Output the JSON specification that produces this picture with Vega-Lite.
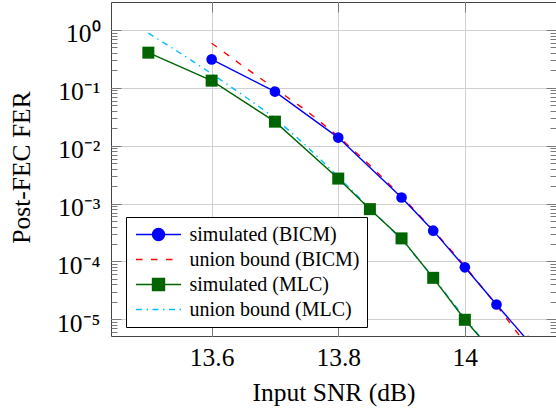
{
  "$schema": "https://vega.github.io/schema/vega-lite/v6.json",
  "width": 445,
  "height": 334,
  "autosize": {"type": "none"},
  "padding": {"left": 111, "top": 2, "right": 0, "bottom": 75},
  "config": {
    "view": {"stroke": "#444444", "strokeWidth": 1},
    "font": "Liberation Serif",
    "axis": {
      "domain": false,
      "labelFont": "Liberation Serif",
      "titleFont": "Liberation Serif",
      "labelFontSize": 25.5,
      "titleFontSize": 25.5,
      "titleFontWeight": "normal",
      "labelColor": "black",
      "titleColor": "black",
      "tickColor": "#7a7a7a",
      "tickWidth": 1,
      "gridColor": "#d0d0d0",
      "gridWidth": 1,
      "offset": 0
    }
  },
  "data": {
    "values": [
      {"series": "simulated (BICM)", "snr": 13.6, "fer": 0.31},
      {"series": "simulated (BICM)", "snr": 13.7, "fer": 0.086},
      {"series": "simulated (BICM)", "snr": 13.8, "fer": 0.0138},
      {"series": "simulated (BICM)", "snr": 13.9, "fer": 0.00127},
      {"series": "simulated (BICM)", "snr": 13.95, "fer": 0.00034},
      {"series": "simulated (BICM)", "snr": 14.0, "fer": 0.000079},
      {"series": "simulated (BICM)", "snr": 14.05, "fer": 0.000018},
      {"series": "simulated (BICM)", "snr": 14.1, "fer": 0.0000042},
      {"series": "union bound (BICM)", "snr": 13.6, "fer": 0.59},
      {"series": "union bound (BICM)", "snr": 13.65, "fer": 0.235},
      {"series": "union bound (BICM)", "snr": 13.7, "fer": 0.097},
      {"series": "union bound (BICM)", "snr": 13.75, "fer": 0.04},
      {"series": "union bound (BICM)", "snr": 13.8, "fer": 0.0145},
      {"series": "union bound (BICM)", "snr": 13.85, "fer": 0.0046},
      {"series": "union bound (BICM)", "snr": 13.9, "fer": 0.00133},
      {"series": "union bound (BICM)", "snr": 13.95, "fer": 0.00035},
      {"series": "union bound (BICM)", "snr": 14.0, "fer": 0.000083},
      {"series": "union bound (BICM)", "snr": 14.05, "fer": 0.0000175},
      {"series": "union bound (BICM)", "snr": 14.1, "fer": 0.0000033},
      {"series": "simulated (MLC)", "snr": 13.5, "fer": 0.405},
      {"series": "simulated (MLC)", "snr": 13.6, "fer": 0.133},
      {"series": "simulated (MLC)", "snr": 13.7, "fer": 0.026},
      {"series": "simulated (MLC)", "snr": 13.8, "fer": 0.0027},
      {"series": "simulated (MLC)", "snr": 13.85, "fer": 0.0008},
      {"series": "simulated (MLC)", "snr": 13.9, "fer": 0.00025},
      {"series": "simulated (MLC)", "snr": 13.95, "fer": 0.000052},
      {"series": "simulated (MLC)", "snr": 14.0, "fer": 0.0000098},
      {"series": "simulated (MLC)", "snr": 14.05, "fer": 0.0000023},
      {"series": "union bound (MLC)", "snr": 13.5, "fer": 0.88},
      {"series": "union bound (MLC)", "snr": 13.55, "fer": 0.4},
      {"series": "union bound (MLC)", "snr": 13.6, "fer": 0.175},
      {"series": "union bound (MLC)", "snr": 13.65, "fer": 0.074},
      {"series": "union bound (MLC)", "snr": 13.7, "fer": 0.03},
      {"series": "union bound (MLC)", "snr": 13.75, "fer": 0.0098},
      {"series": "union bound (MLC)", "snr": 13.8, "fer": 0.0029},
      {"series": "union bound (MLC)", "snr": 13.85, "fer": 0.00082},
      {"series": "union bound (MLC)", "snr": 13.9, "fer": 0.00024},
      {"series": "union bound (MLC)", "snr": 13.95, "fer": 0.000053},
      {"series": "union bound (MLC)", "snr": 14.0, "fer": 0.0000105},
      {"series": "union bound (MLC)", "snr": 14.05, "fer": 0.0000022}
    ]
  },
  "layer": [
    {
      "transform": [{"filter": {"field": "series", "oneOf": ["union bound (BICM)", "union bound (MLC)"]}}],
      "mark": {"type": "line", "clip": true, "strokeWidth": 1.4},
      "encoding": {
        "x": {"field": "snr", "type": "quantitative",
          "scale": {"domain": [13.441, 14.144], "nice": false, "zero": false},
          "axis": {"orient": "top", "values": [13.6, 13.8, 14], "labels": false, "grid": false, "tickSize": -10, "title": null, "zindex": 1}},
        "y": {"field": "fer", "type": "quantitative",
          "scale": {"type": "log", "domain": [0.00000514, 3.04], "nice": false},
          "axis": {"orient": "right", "values": [0.00001, 0.0001, 0.001, 0.01, 0.1, 1], "labels": false, "grid": false, "tickSize": -10, "title": null, "zindex": 1}},
        "color": {"field": "series", "type": "nominal",
          "scale": {"domain": ["simulated (BICM)", "union bound (BICM)", "simulated (MLC)", "union bound (MLC)"], "range": ["#0000ff", "#ff0000", "#006400", "#00bfff"]},
          "legend": {
            "title": null, "orient": "none", "legendX": 15, "legendY": 215, "direction": "vertical",
            "labelFont": "Liberation Serif", "labelFontSize": 20, "labelColor": "black", "labelLimit": 400,
            "symbolType": "stroke", "symbolSize": 225, "symbolStrokeWidth": 1.4, "labelOffset": 36,
            "padding": 7.5, "rowPadding": 5, "strokeColor": "black", "fillColor": "white", "cornerRadius": 0,
            "encode": {"symbols": {"update": {
              "shape": {"signal": "datum.value == 'simulated (BICM)' ? 'M-1,0H5M2.8,0A0.8,0.8,0,1,1,1.2,0A0.8,0.8,0,1,1,2.8,0Z' : datum.value == 'simulated (MLC)' ? 'M-1,0H5M1.2,-0.8H2.8V0.8H1.2Z' : 'M-1,0H5'"},
              "fill": {"signal": "datum.value == 'simulated (BICM)' ? '#0000ff' : datum.value == 'simulated (MLC)' ? '#006400' : 'transparent'"},
              "strokeDash": {"signal": "datum.value == 'union bound (BICM)' ? [6.5,8.5] : datum.value == 'union bound (MLC)' ? [6,4.5,1.5,4.5] : []"}
            }}}
          }},
        "strokeDash": {"field": "series", "type": "nominal",
          "scale": {"domain": ["union bound (BICM)", "union bound (MLC)"], "range": [[6.5, 8.5], [6, 4.5, 1.5, 4.5]]},
          "legend": null}
      }
    },
    {
      "transform": [{"filter": {"field": "series", "oneOf": ["simulated (BICM)", "simulated (MLC)"]}}],
      "mark": {"type": "line", "clip": true, "strokeWidth": 1.4},
      "encoding": {
        "x": {"field": "snr", "type": "quantitative",
          "scale": {"domain": [13.441, 14.144], "nice": false, "zero": false},
          "axis": {"orient": "bottom", "values": [13.6, 13.8, 14], "format": "~g", "grid": true, "tickSize": -10, "labelPadding": 39, "labelBaseline": "alphabetic", "labelFlush": false,
            "title": "Input SNR (dB)", "titleY": 64, "titleBaseline": "alphabetic"}},
        "y": {"field": "fer", "type": "quantitative",
          "scale": {"type": "log", "domain": [0.00000514, 3.04], "nice": false},
          "axis": {"orient": "left", "values": [0.00001, 0.0001, 0.001, 0.01, 0.1, 1], "grid": true, "tickSize": -10, "labelPadding": 21,
            "labelAlign": "right", "labelBaseline": "alphabetic", "labelOffset": 12, "labelFlush": false,
            "labelExpr": "'10' + ['⁰','⁻¹','⁻²','⁻³','⁻⁴','⁻⁵'][round(-log(datum.value)/LN10)]",
            "title": "Post-FEC FER", "titleX": -82, "titleY": 165, "titleBaseline": "alphabetic"}},
        "color": {"field": "series", "type": "nominal",
          "scale": {"domain": ["simulated (BICM)", "union bound (BICM)", "simulated (MLC)", "union bound (MLC)"], "range": ["#0000ff", "#ff0000", "#006400", "#00bfff"]},
          "legend": {
            "title": null, "orient": "none", "legendX": 15, "legendY": 215, "direction": "vertical",
            "labelFont": "Liberation Serif", "labelFontSize": 20, "labelColor": "black", "labelLimit": 400,
            "symbolType": "stroke", "symbolSize": 225, "symbolStrokeWidth": 1.4, "labelOffset": 36,
            "padding": 7.5, "rowPadding": 5, "strokeColor": "black", "fillColor": "white", "cornerRadius": 0,
            "encode": {"symbols": {"update": {
              "shape": {"signal": "datum.value == 'simulated (BICM)' ? 'M-1,0H5M2.8,0A0.8,0.8,0,1,1,1.2,0A0.8,0.8,0,1,1,2.8,0Z' : datum.value == 'simulated (MLC)' ? 'M-1,0H5M1.2,-0.8H2.8V0.8H1.2Z' : 'M-1,0H5'"},
              "fill": {"signal": "datum.value == 'simulated (BICM)' ? '#0000ff' : datum.value == 'simulated (MLC)' ? '#006400' : 'transparent'"},
              "strokeDash": {"signal": "datum.value == 'union bound (BICM)' ? [6.5,8.5] : datum.value == 'union bound (MLC)' ? [6,4.5,1.5,4.5] : []"}
            }}}
          }}
      }
    },
    {
      "transform": [{"filter": {"field": "series", "equal": "simulated (BICM)"}}],
      "mark": {"type": "point", "shape": "circle", "filled": true, "size": 113, "opacity": 1, "color": "#0000ff", "clip": true},
      "encoding": {
        "x": {"field": "snr", "type": "quantitative",
          "scale": {"domain": [13.441, 14.144], "nice": false, "zero": false}, "axis": null},
        "y": {"field": "fer", "type": "quantitative",
          "scale": {"type": "log", "domain": [0.00000514, 3.04], "nice": false},
          "axis": {"orient": "left", "values": [0.000006, 0.000007, 0.000008, 0.000009, 0.00002, 0.00003, 0.00004, 0.00005, 0.00006, 0.00007, 0.00008, 0.00009, 0.0002, 0.0003, 0.0004, 0.0005, 0.0006, 0.0007, 0.0008, 0.0009, 0.002, 0.003, 0.004, 0.005, 0.006, 0.007, 0.008, 0.009, 0.02, 0.03, 0.04, 0.05, 0.06, 0.07, 0.08, 0.09, 0.2, 0.3, 0.4, 0.5, 0.6, 0.7, 0.8, 0.9],
            "labels": false, "grid": false, "tickSize": -6, "title": null, "zindex": 1}}
      }
    },
    {
      "transform": [{"filter": {"field": "series", "equal": "simulated (MLC)"}}],
      "mark": {"type": "point", "shape": "square", "filled": true, "size": 144, "opacity": 1, "color": "#006400", "clip": true},
      "encoding": {
        "x": {"field": "snr", "type": "quantitative",
          "scale": {"domain": [13.441, 14.144], "nice": false, "zero": false}, "axis": null},
        "y": {"field": "fer", "type": "quantitative",
          "scale": {"type": "log", "domain": [0.00000514, 3.04], "nice": false},
          "axis": {"orient": "right", "values": [0.000006, 0.000007, 0.000008, 0.000009, 0.00002, 0.00003, 0.00004, 0.00005, 0.00006, 0.00007, 0.00008, 0.00009, 0.0002, 0.0003, 0.0004, 0.0005, 0.0006, 0.0007, 0.0008, 0.0009, 0.002, 0.003, 0.004, 0.005, 0.006, 0.007, 0.008, 0.009, 0.02, 0.03, 0.04, 0.05, 0.06, 0.07, 0.08, 0.09, 0.2, 0.3, 0.4, 0.5, 0.6, 0.7, 0.8, 0.9],
            "labels": false, "grid": false, "tickSize": -6, "title": null, "zindex": 1}}
      }
    }
  ],
  "resolve": {"axis": {"x": "independent", "y": "independent"}}
}
